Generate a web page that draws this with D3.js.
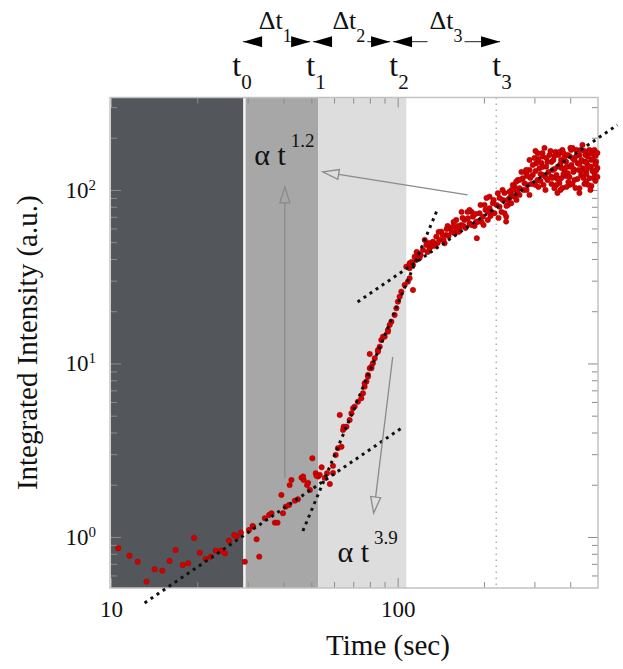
<!DOCTYPE html>
<html><head><meta charset="utf-8">
<script src="https://cdn.jsdelivr.net/npm/d3@7"></script>
<style>
body{margin:0;background:#fff}
svg{display:block}
text{font-family:"Liberation Serif","Times New Roman",serif;fill:#111}
</style>
</head><body>
<svg id="c" width="623" height="669"></svg>
<script>
// ---------------- data ----------------
// [time (s), integrated intensity (a.u.)]
const measurements = [
 [10.6,0.861],[11.6,0.780],[12.4,0.720],[13.3,0.553],[14.2,0.651],[15.1,0.639],[16.0,0.727],[16.8,0.841],
 [17.8,0.690],[18.6,0.705],[19.5,0.987],[20.4,0.812],[21.4,0.747],[22.3,0.770],[23.2,0.834],[24.2,0.834],
 [25.0,0.805],[25.8,0.952],[26.9,1.027],[27.4,1.004],[28.4,1.059],[29.3,0.720],[30.3,1.097],[31.3,1.147],
 [31.2,1.157],[32.2,0.970],[32.9,0.770],[34.4,1.282],[35.6,1.339],[36.3,1.370],[37.3,1.209],[38.1,1.209],
 [39.3,1.746],[39.8,1.370],[40.7,1.495],[41.8,1.529],[42.6,2.13],[42.0,1.99],[43.8,1.619],[44.9,1.649],
 [46.2,2.197],[47.0,2.13],[48.3,1.99],[49.4,1.866],[50.4,2.84],[51.8,2.33],[52.8,2.23],[53.5,2.28],
 [54.3,2.52],[56.7,2.33],[58.0,2.02],[59.5,2.57],[60.8,2.97],[61.9,3.25],[62.8,5.05],[46.8,2.23],
 [48.7,2.05],[52.1,2.25],[55.7,2.19],[59.5,2.34],
 [64.8,4.32],[69.0,5.16],[70.8,5.64],[72.7,6.02],[74.7,6.30],[75.7,6.73],[76.7,7.35],[77.8,7.86],
 [78.8,8.58],[79.9,9.38],[81.0,9.58],[79.9,11.34],[82.0,10.03],[85.4,11.96],[86.6,12.50],[87.7,13.66],
 [88.9,14.27],[92.5,15.60],[93.8,16.67],[95.1,17.42],[97.6,19.03],[99.0,20.81],[100.2,22.71],[101.6,24.27],
 [103.0,25.93],[105.8,28.35],[108.6,29.62],[110.1,30.98],[113.1,26.52],[110.1,35.38],[113.1,36.97],[116.2,39.50],
 [117.7,42.21],[63.7,3.31],[64.5,4.14],[66.3,4.32],[68.0,4.72],[69.9,5.52],[76.7,7.69],[78.8,8.39],
 [81.0,9.38],[83.2,10.71],[85.4,11.70],[90.1,14.27],[92.5,15.25],
 [107.2,36.14],[110.1,37.80],[114.6,41.27],[117.7,43.17],[122.5,45.12],[125.9,48.19],[129.3,46.13],[132.7,50.35],
 [136.4,53.80],[140.1,51.50],[142.0,57.51],[145.8,49.30],[147.8,55.04],[151.8,60.14],[155.8,61.43],[157.9,56.29],
 [160.1,67.16],[164.4,58.81],[166.7,62.84],[171.2,67.16],[175.8,68.70],[178.2,64.27],[183.0,70.17],[188.0,65.68],
 [188.9,52.67],[193.1,73.40],[198.3,70.17],[202.6,76.70],[206.3,67.16],[209.2,78.45],[214.8,83.80],[217.8,73.40],
 [223.6,95.72],[226.7,80.10],[232.8,87.59],[239.2,70.17],[242.3,81.93],[249.0,93.58],[255.7,104.5],[262.6,114.2],
 [119.3,40.6],[127.2,43.9],[137.9,49.5],[143.5,55.0],[149.4,62.0],[154.3,57.3],[161.8,62.0],[168.5,69.0],
 [172.6,60.4],[181.1,74.7],[185.5,62.0],[196.2,65.4],[201.0,81.9],[210.9,70.8],[221.3,81.9],[230.3,74.7],
 [236.0,96.1],[239.0,65.7],[209.2,91.5],
 [124.3,51.5],[131.4,47.6],[148.2,59.5],[160.5,58.8],[167.1,74.7],[178.2,76.7],[190.0,65.4],[204.2,89.9],
 [212.6,74.7],[226.7,89.9],
 [111.9,38.5],[116.5,43.9],[120.3,42.2],[128.2,49.5],[134.6,47.6],[139.0,57.3],[144.6,51.5],[150.5,54.3],
 [156.7,65.4],[163.2,57.3],[169.8,62.0],[175.4,74.7],[181.1,62.8],[187.0,72.7],[194.7,81.9],[199.4,62.8],
 [207.6,74.7],[216.1,87.6],[224.9,69.0],[232.2,100.0],
 [245.6,97.8],[252.2,106.9],[259.2,111.6],[266.1,102.3],[273.3,116.8],[280.8,124.8],[288.4,130.4],[296.1,122.1],
 [304.3,142.5],[308.3,162.8],[312.5,133.4],[320.9,155.6],[329.7,136.2],[338.6,159.1],[343.2,119.3],[347.6,130.4],
 [352.4,102.3],[361.8,136.2],[371.8,148.9],[381.8,130.4],[387.0,145.6],[397.4,136.2],[402.9,170.1],[408.1,152.3],
 [413.7,114.2],[424.8,142.5],[430.6,159.1],[442.2,133.4],[448.3,145.6],[454.4,111.6],[460.3,155.6],[473.0,136.2],
 [479.2,162.8],[485.8,124.8],[492.4,145.6],[466.7,116.8],[436.6,122.1],[392.2,124.8],[371.8,116.8],[320.9,122.1],
 [296.1,139.3],[277.0,109.3],[266.1,93.6],[255.7,91.5],[249.0,83.8],[236.0,73.4],
 [325.3,174.7],[355.2,165.6],[375.7,170.1],[420.4,170.1],[466.7,170.1],[489.7,157.0],[437.6,148.9],[410.4,127.0],
 [366.8,109.7],[333.2,114.2],[302.6,106.9],[288.4,148.9],[283.8,106.9],[474.2,105.5],[497.6,133.9],[397.4,106.9],
 [344.0,145.0],[381.8,155.0],[455.5,130.4],[430.6,102.3],[315.0,123.6],[358.1,122.1],[327.9,100.0],
 [300.2,152.9],[307.5,114.2],[317.6,143.1],[322.7,106.9],[330.6,152.9],[335.9,127.0],[346.8,117.3],[349.6,148.9],
 [358.1,106.9],[363.9,159.1],[372.8,133.9],[375.7,102.7],[384.9,120.4],[391.1,159.1],[394.2,111.2],[403.9,139.3],
 [413.7,148.9],[417.1,102.7],[427.2,130.4],[434.2,170.1],[444.8,117.3],[451.9,159.1],[459.2,139.3],[462.9,106.9],
 [474.2,148.9],[481.8,117.3],[485.8,170.1],[493.7,130.4],[441.3,181.7],[400.6,174.7],[366.8,165.6],
 [241.7,87.6],[249.6,100.0],[261.9,97.4],[270.4,127.0],[281.5,100.0],[290.6,117.3],[280.8,130.4],
 [239.8,80.9],[245.6,89.9],[253.7,100.0],[259.8,87.6],[266.1,114.2],[274.8,100.0],[283.8,120.4],[293.1,108.3],
 [288.4,93.6],
 [302.6,128.7],[309.9,150.9],[315.0,112.7],[320.1,135.7],[327.9,118.8],[333.2,145.0],[341.3,167.8],[344.0,108.3],
 [352.4,132.1],[352.4,157.0],[361.0,115.7],[369.8,141.2],[369.8,100.0],[378.8,163.4],[378.8,123.6],[388.0,135.7],
 [388.0,104.1],[397.4,157.0],[397.4,118.8],[407.2,174.7],[407.2,108.3],[410.4,132.1],[420.4,157.0],[423.8,115.7],
 [430.6,141.2],[430.6,96.1],[437.6,128.7],[448.3,167.8],[448.3,108.3],[455.5,145.0],[455.5,123.6],[466.7,163.4],
 [466.7,135.7],[470.5,100.0],[478.1,150.9],[478.1,128.7],[489.7,141.2],[489.7,112.7],[497.6,163.4],[497.6,118.8],
 [361.0,96.1],[320.1,163.4],[309.9,104.1],[302.6,167.8]
];

// power-law guide lines (end points, time and intensity)
const fitEarlyT = [13.1, 103.3],  fitEarlyI = [0.4165, 4.25];
const fitSteepT = [46.7, 137.9],  fitSteepI = [1.083, 77.7];
const fitLateT  = [72.5, 584.3],  fitLateI  = [22.62, 236.9];

// phase boundaries t0..t3 (s)
const phaseBounds = [29.2, 52.8, 107.2, 220.8];
const phaseNames = ["0","1","2","3"];
const phaseLabelAt = [26.5, 48.0, 93.5, 214.0];

// interval arrows Δt1..Δt3
const intervalStart = [28.9, 50.7, 96.4];
const intervalEnd   = [49.5, 94.1, 227.7];
const intervalLabelAt = [32.8, 59.2, 129.2];
const intervalNames = ["1","2","3"];

// exponent labels
const exponents = ["1.2", "3.9"];
const exponentAtT = [31.6, 61.7];
const exponentAtI = [139.3, 0.718];

// grey annotation arrows
const noteFromT = [40.4, 175.4, 96.1], noteFromI = [2.19, 93.6, 10.9];
const noteToT   = [40.4, 54.8, 82.5],  noteToI   = [104.1, 127.0, 1.375];

// axes
const xDomain = [10, 500];
const yDomain = [0.508, 341];
const xMajor = [10, 100];
const xMinor = [20,30,40,50,60,70,80,90,200,300,400];
const yMajor = [1, 10, 100];
const yExp = ["0","1","2"];
const yMinor = [0.6,0.7,0.8,0.9,2,3,4,5,6,7,8,9,20,30,40,50,60,70,80,90,200,300];
const xTitle = "Time (sec)";
const yTitle = "Integrated Intensity (a.u.)";

// ---------------- drawing ----------------
const FONT = "Liberation Serif, Times New Roman, serif";
const svg = d3.select("#c");
const X0 = 111, X1 = 598, Y0 = 97.5, Y1 = 588;
const x = d3.scaleLog().domain(xDomain).range([X0, X1]);
const y = d3.scaleLog().domain(yDomain).range([Y1, Y0]);

// shaded phases
const shades = ["#53565a", "#a7a7a7", "#dcdddc"];
const edges = [xDomain[0], phaseBounds[0], phaseBounds[1], phaseBounds[2]];
for (let i = 0; i < 3; i++) {
  svg.append("rect")
    .attr("x", x(edges[i])).attr("y", Y0)
    .attr("width", x(edges[i+1]) - x(edges[i])).attr("height", Y1 - Y0)
    .attr("fill", shades[i]);
}
svg.append("line")
  .attr("x1", x(phaseBounds[0])).attr("x2", x(phaseBounds[0]))
  .attr("y1", Y0).attr("y2", Y1)
  .attr("stroke", "#f4f4f4").attr("stroke-width", 2.5);

// t3 dotted marker
svg.append("line")
  .attr("x1", x(phaseBounds[3])).attr("x2", x(phaseBounds[3]))
  .attr("y1", Y0).attr("y2", Y1)
  .attr("stroke", "#b0b0b0").attr("stroke-width", 1.5)
  .attr("stroke-dasharray", "1.5,4.5");

// axes (inward ticks)
function styleAxis(g) {
  g.select(".domain").remove();
  g.selectAll(".tick line").attr("stroke", "#8c8c8c");
  g.selectAll("text").attr("font-family", FONT).attr("font-size", 23).attr("fill", "#111");
}
svg.append("g").attr("transform", `translate(0,${Y1})`)
  .call(d3.axisBottom(x).tickValues(xMajor).tickSize(-10).tickPadding(13).tickFormat(d3.format("d")))
  .call(styleAxis);
svg.append("g").attr("transform", `translate(0,${Y1})`)
  .call(d3.axisBottom(x).tickValues(xMinor).tickSize(-6).tickFormat(""))
  .call(styleAxis);
svg.append("g").attr("transform", `translate(0,${Y0})`)
  .call(d3.axisTop(x).tickValues(xMajor).tickSize(-10).tickFormat(""))
  .call(styleAxis);
svg.append("g").attr("transform", `translate(0,${Y0})`)
  .call(d3.axisTop(x).tickValues(xMinor).tickSize(-6).tickFormat(""))
  .call(styleAxis);

const yl = svg.append("g").attr("transform", `translate(${X0},0)`)
  .call(d3.axisLeft(y).tickValues(yMajor).tickSize(-10).tickPadding(15).tickFormat(""))
  .call(styleAxis);
yl.selectAll(".tick text").each(function(d, i) {
  const t = d3.select(this);
  t.append("tspan").text("10");
  t.append("tspan").attr("dy", "-0.55em").attr("font-size", 15).text(yExp[i]);
});
svg.append("g").attr("transform", `translate(${X0},0)`)
  .call(d3.axisLeft(y).tickValues(yMinor).tickSize(-6).tickFormat(""))
  .call(styleAxis);
svg.append("g").attr("transform", `translate(${X1},0)`)
  .call(d3.axisRight(y).tickValues(yMajor).tickSize(-10).tickFormat(""))
  .call(styleAxis);
svg.append("g").attr("transform", `translate(${X1},0)`)
  .call(d3.axisRight(y).tickValues(yMinor).tickSize(-6).tickFormat(""))
  .call(styleAxis);

// frame
svg.append("rect").attr("x", X0 - 1).attr("y", Y0).attr("width", X1 - X0 + 1).attr("height", Y1 - Y0)
  .attr("fill", "none").attr("stroke", "#c2c2c2").attr("stroke-width", 1.5);

// data points
svg.append("g").selectAll("circle").data(measurements).join("circle")
  .attr("cx", d => x(d[0])).attr("cy", d => y(d[1])).attr("r", 2.7)
  .attr("fill", "#d20000").attr("stroke", "#a00000").attr("stroke-width", 0.5);

// dotted fit lines
[[fitEarlyT, fitEarlyI], [fitSteepT, fitSteepI], [fitLateT, fitLateI]].forEach(([ts, is]) => {
  svg.append("line")
    .attr("x1", x(ts[0])).attr("y1", y(is[0]))
    .attr("x2", x(ts[1])).attr("y2", y(is[1]))
    .attr("stroke", "#111").attr("stroke-width", 3)
    .attr("stroke-dasharray", "3,4.3");
});

// grey annotation arrows with open heads
for (let i = 0; i < noteFromT.length; i++) {
  const p1 = [x(noteFromT[i]), y(noteFromI[i])], p2 = [x(noteToT[i]), y(noteToI[i])];
  const dx = p2[0] - p1[0], dy = p2[1] - p1[1], L = Math.hypot(dx, dy);
  const u = [dx / L, dy / L], n = [-u[1], u[0]];
  const hl = 16, hw = 5;
  const b = [p2[0] - u[0] * hl, p2[1] - u[1] * hl];
  svg.append("line").attr("x1", p1[0]).attr("y1", p1[1]).attr("x2", b[0]).attr("y2", b[1])
    .attr("stroke", "#8a8a8a").attr("stroke-width", 1.3);
  svg.append("path")
    .attr("d", `M${p2[0]},${p2[1]}L${b[0] + n[0] * hw},${b[1] + n[1] * hw}L${b[0] - n[0] * hw},${b[1] - n[1] * hw}Z`)
    .attr("fill", "none").attr("stroke", "#8a8a8a").attr("stroke-width", 1.3);
}

// exponent labels
exponents.forEach((e, i) => {
  const t = svg.append("text").attr("x", x(exponentAtT[i])).attr("y", y(exponentAtI[i]))
    .attr("font-family", FONT).attr("font-size", 30);
  t.append("tspan").text("\u03B1 t");
  t.append("tspan").attr("dx", 5).attr("dy", -18).attr("font-size", 19).text(e);
});

// top: phase markers t0..t3
phaseNames.forEach((s, i) => {
  const t = svg.append("text").attr("x", x(phaseLabelAt[i])).attr("y", 76)
    .attr("font-family", FONT).attr("font-size", 32);
  t.append("tspan").text("t");
  t.append("tspan").attr("dy", 13).attr("font-size", 21).text(s);
});

// top: interval arrows
const AY = 41.7;
intervalNames.forEach((s, i) => {
  const xa = x(intervalStart[i]), xb = x(intervalEnd[i]);
  svg.append("line").attr("x1", xa).attr("x2", xb).attr("y1", AY).attr("y2", AY)
    .attr("stroke", "#222").attr("stroke-width", 1);
  const g = svg.append("g");
  const rect = g.append("rect").attr("fill", "#fff");
  const t = g.append("text").attr("x", x(intervalLabelAt[i])).attr("y", 29)
    .attr("font-family", FONT).attr("font-size", 26);
  t.append("tspan").text("\u0394t");
  t.append("tspan").attr("dy", 13).attr("font-size", 18).text(s);
  const bb = t.node().getBBox();
  rect.attr("x", bb.x - 2).attr("width", bb.width + 4).attr("y", AY - 5).attr("height", 10);
  svg.append("path").attr("d", `M${xa},${AY}L${xa + 19},${AY - 5.5}L${xa + 19},${AY + 5.5}Z`).attr("fill", "#000");
  svg.append("path").attr("d", `M${xb},${AY}L${xb - 19},${AY - 5.5}L${xb - 19},${AY + 5.5}Z`).attr("fill", "#000");
});

// axis titles
svg.append("text").attr("x", 388).attr("y", 655).attr("text-anchor", "middle")
  .attr("font-family", FONT).attr("font-size", 29).text(xTitle);
svg.append("text").attr("transform", `translate(37,${(Y0 + Y1) / 2}) rotate(-90)`)
  .attr("text-anchor", "middle").attr("font-family", FONT).attr("font-size", 29).text(yTitle);
</script>
</body></html>
